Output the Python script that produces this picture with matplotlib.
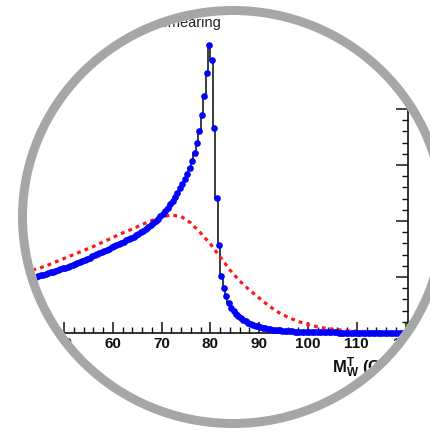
import numpy as np
import matplotlib
matplotlib.use("Agg")
import matplotlib.pyplot as plt
from matplotlib.patches import Ellipse, PathPatch
from matplotlib.path import Path
from matplotlib.ticker import MultipleLocator

plt.rcParams['font.family'] = ['Liberation Sans', 'DejaVu Sans']
plt.rcParams['mathtext.fontset'] = 'custom'
plt.rcParams['mathtext.rm'] = 'Liberation Sans'
plt.rcParams['mathtext.bf'] = 'Liberation Sans:bold'
plt.rcParams['mathtext.it'] = 'Liberation Sans:italic'

# ---------------- data ----------------
# transverse-mass histogram (no smearing), 0.5 GeV bins starting at 42 GeV
bin_start = 42.0
bin_width = 0.5
mt_counts = [
    54, 54.5, 55, 56, 56.5, 57, 58, 58.5, 59.5, 60,
    61, 61.5, 62.5, 63, 64, 65, 65.5, 66.5, 67.5, 68.5,
    69.5, 70.5, 71.5, 72.5, 73.5, 74.5, 75.5, 77, 78, 79,
    80.5, 81.5, 82.5, 83.5, 84.5, 86, 87, 88, 89, 90.5,
    91.5, 93, 94, 95.5, 96.5, 98, 99.5, 101, 102.5, 104.5,
    106, 108, 110, 112, 114.5, 117, 119.5, 122.5, 125.5, 129,
    132.5, 136.5, 140.5, 145, 149.5, 154, 159, 165, 172, 180,
    190, 202, 218, 237, 260, 288, 273, 205, 135, 88,
    57, 45, 37, 30, 25.5, 22, 19, 17, 15, 13.5,
    12, 10.5, 9.5, 8.5, 7.5, 6.8, 6, 5.4, 4.8, 4.3,
    3.9, 3.5, 3.2, 2.9, 2.6, 2.4, 2.2, 2.0, 1.8, 1.7,
    1.5, 1.4, 1.3, 1.2, 1.1, 1.0,
    0.95, 0.9, 0.85, 0.8, 0.76, 0.72, 0.68, 0.65, 0.62, 0.59,
    0.56, 0.53, 0.5, 0.48, 0.46, 0.44, 0.42, 0.4, 0.38, 0.36,
    0.35, 0.34, 0.33, 0.32, 0.31, 0.3, 0.29, 0.28, 0.27, 0.26,
    0.25, 0.24, 0.23, 0.22, 0.21, 0.2, 0.2, 0.19, 0.19, 0.18,
]

# smeared distribution (red dashed)
smear_x = [42, 44, 46, 48, 50, 52, 54, 56, 58, 60, 62, 64, 66, 68, 70, 72,
           74, 76, 78, 80, 82, 84, 86, 88, 90, 92, 94, 96, 98, 100, 102,
           104, 106, 108, 110, 112, 114, 116, 118, 120]
smear_y = [60, 63.5, 66.5, 70.5, 74.5, 78.5, 82.5, 86.5, 91, 95.5, 100, 104,
           108.5, 112.5, 116, 118, 116.5, 110, 100, 89, 76, 63, 52, 43, 35,
           27, 20.5, 15.5, 11.5, 8.5, 6, 4.5, 3.3, 2.4, 1.8, 1.3, 1.0, 0.8,
           0.6, 0.5]

x_ticks = [50, 60, 70, 80, 90, 100, 110, 120]
x_label = r'$\mathbf{M_{W}^{T}}$ $\mathbf{(GeV)}$'
legend_text = 'with smearing'

# ---------------- figure ----------------
W, H = 431, 433
fig = plt.figure(figsize=(W / 100, H / 100), dpi=100)
fig.patch.set_facecolor('white')

ax = fig.add_axes([0, 100 / H, 408 / W, 328 / H])
ax.set_xlim(50 - 64 / 4.88, 50 + 344 / 4.88)
ax.set_ylim(0, 328)

counts = np.array(mt_counts)
edges = bin_start + bin_width * np.arange(len(counts) + 1)
centers = 0.5 * (edges[:-1] + edges[1:])

ax.stairs(counts, edges, color='#1a1a1a', lw=1.2, zorder=2)
ax.plot(smear_x, smear_y, color='#ff1a1a', lw=2.3,
        linestyle=(0, (1.2, 1.3)), zorder=3)
ax.plot(centers, counts, 'o', color='#0000ff', ms=4.8, mec='none',
        zorder=4, clip_on=False)

for s in ['left']:
    ax.spines[s].set_visible(False)
for s in ['bottom', 'right', 'top']:
    ax.spines[s].set_linewidth(1.2)
    ax.spines[s].set_color('#111111')

ax.set_xticks(x_ticks)
ax.xaxis.set_minor_locator(MultipleLocator(2))
ax.tick_params(axis='x', which='major', direction='in', length=8, width=1.1,
               pad=3, labelsize=11, colors='#111111')
ax.tick_params(axis='x', which='minor', direction='in', length=4, width=1.0,
               colors='#111111')
for lab in ax.get_xticklabels():
    lab.set_fontweight('bold')

ax.yaxis.tick_right()
ax.yaxis.set_major_locator(MultipleLocator(56))
ax.yaxis.set_minor_locator(MultipleLocator(11.2))
ax.tick_params(axis='y', which='major', direction='in', length=8.6, width=1.1,
               labelright=False, colors='#111111')
ax.tick_params(axis='y', which='minor', direction='in', length=4.3, width=1.0,
               colors='#111111')

fig.text(332 / W, 1 - 373 / H, x_label, ha='left', va='baseline',
         fontsize=12, color='#111111')
fig.text(221 / W, 1 - 27 / H, legend_text, ha='right', va='baseline',
         fontsize=10.5, color='#222222')

# ---------------- circular crop overlay ----------------
ov = fig.add_axes([0, 0, 1, 1], zorder=10)
ov.set_xlim(0, W)
ov.set_ylim(H, 0)
ov.axis('off')
cx, cy, a_in, b_in = 233, 217, 206, 202
t = np.linspace(0, 2 * np.pi, 600)
ex = cx + a_in * np.cos(t)
ey = cy + b_in * np.sin(t)
rect = [(-10, -10), (W + 10, -10), (W + 10, H + 10), (-10, H + 10), (-10, -10)]
ell = list(zip(ex[::-1], ey[::-1]))
verts = rect + ell + [ell[0]]
codes = ([Path.MOVETO] + [Path.LINETO] * 3 + [Path.CLOSEPOLY] +
         [Path.MOVETO] + [Path.LINETO] * (len(ell) - 1) + [Path.CLOSEPOLY])
ov.add_patch(PathPatch(Path(verts, codes), facecolor='white',
                       edgecolor='none'))
ring = 9
ov.add_patch(Ellipse((cx, cy), 2 * (a_in + ring / 2), 2 * (b_in + ring / 2),
                     fill=False, edgecolor='#a4a7a5', lw=ring * 0.72))

fig.savefig('out.png', dpi=100, facecolor='white')
